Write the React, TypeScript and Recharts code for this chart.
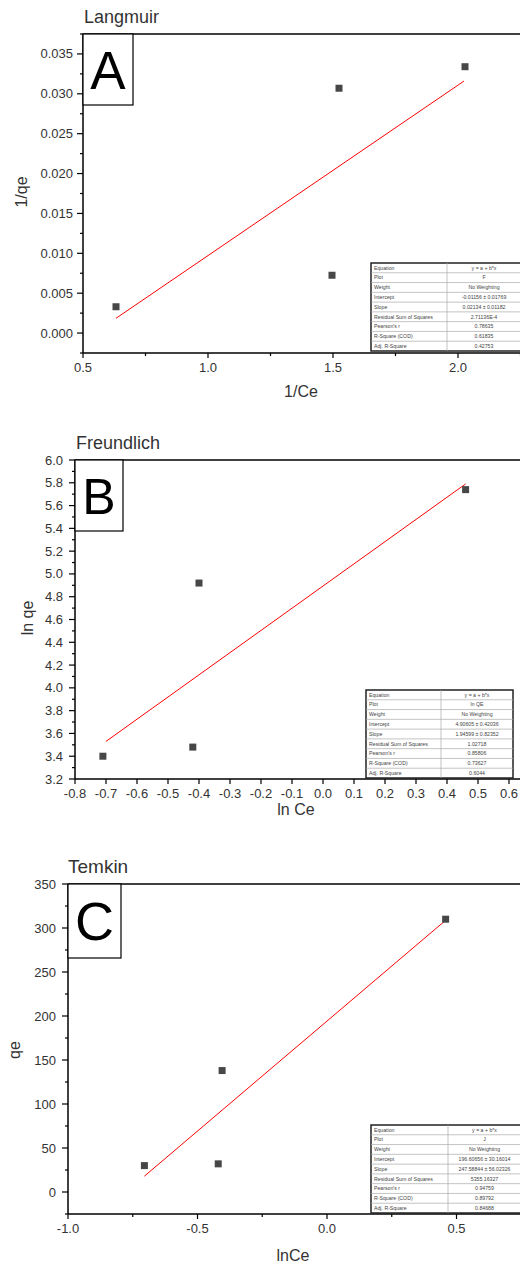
import React from 'react';
import { ScatterChart, Scatter, XAxis, YAxis, ReferenceLine } from 'recharts';

const FONT = '"Liberation Sans", Arial, Helvetica, sans-serif';

// ---------- Panel A: Langmuir ----------
const langX = [0.632, 1.496, 1.524, 2.028];
const langY = [0.0033, 0.00725, 0.0307, 0.0334];
const langFitX = [0.632, 2.024];
const langFitY = [0.00185, 0.0316];
const langXMajor = [0.5, 1.0, 1.5, 2.0];
const langXMinor = [0.75, 1.25, 1.75, 2.25];
const langYMajor = [0, 0.005, 0.01, 0.015, 0.02, 0.025, 0.03, 0.035];
const langYMinor = [-0.0025, 0.0025, 0.0075, 0.0125, 0.0175, 0.0225, 0.0275, 0.0325, 0.0375];
const langTable = [
  ['Equation', 'y = a + b*x'],
  ['Plot', 'F'],
  ['Weight', 'No Weighting'],
  ['Intercept', '-0.01156 ± 0.01769'],
  ['Slope', '0.02134 ± 0.01182'],
  ['Residual Sum of Squares', '2.71136E-4'],
  ['Pearson\'s r', '0.78635'],
  ['R-Square (COD)', '0.61835'],
  ['Adj. R-Square', '0.42753'],
];

// ---------- Panel B: Freundlich ----------
const freX = [-0.71, -0.42, -0.4, 0.46];
const freY = [3.4, 3.48, 4.92, 5.74];
const freFitX = [-0.7, 0.46];
const freFitY = [3.53, 5.79];
const freXMajor = [-0.8, -0.7, -0.6, -0.5, -0.4, -0.3, -0.2, -0.1, 0, 0.1, 0.2, 0.3, 0.4, 0.5, 0.6];
const freXMinor: number[] = [];
const freYMajor = [3.2, 3.4, 3.6, 3.8, 4.0, 4.2, 4.4, 4.6, 4.8, 5.0, 5.2, 5.4, 5.6, 5.8, 6.0];
const freYMinor = [3.3, 3.5, 3.7, 3.9, 4.1, 4.3, 4.5, 4.7, 4.9, 5.1, 5.3, 5.5, 5.7, 5.9];
const freTable = [
  ['Equation', 'y = a + b*x'],
  ['Plot', 'ln QE'],
  ['Weight', 'No Weighting'],
  ['Intercept', '4.90605 ± 0.42036'],
  ['Slope', '1.94599 ± 0.82352'],
  ['Residual Sum of Squares', '1.02718'],
  ['Pearson\'s r', '0.85806'],
  ['R-Square (COD)', '0.73627'],
  ['Adj. R-Square', '0.6044'],
];

// ---------- Panel C: Temkin ----------
const temX = [-0.705, -0.42, -0.405, 0.458];
const temY = [30, 32, 138, 310];
const temFitX = [-0.705, 0.455];
const temFitY = [18, 308];
const temXMajor = [-1.0, -0.5, 0, 0.5];
const temXMinor = [-0.75, -0.25, 0.25];
const temYMajor = [0, 50, 100, 150, 200, 250, 300, 350];
const temYMinor = [-25, 25, 75, 125, 175, 225, 275, 325];
const temTable = [
  ['Equation', 'y = a + b*x'],
  ['Plot', 'J'],
  ['Weight', 'No Weighting'],
  ['Intercept', '196.60656 ± 30.16014'],
  ['Slope', '247.58844 ± 56.02326'],
  ['Residual Sum of Squares', '5355.16327'],
  ['Pearson\'s r', '0.94759'],
  ['R-Square (COD)', '0.89792'],
  ['Adj. R-Square', '0.84688'],
];

const isIn = (arr: number[], v: number) => arr.some((m) => Math.abs(m - v) < 1e-9);

function makeXTick(major: number[], fmt: (v: number) => string) {
  return (props: any) => {
    const { x, y, payload } = props;
    const v = payload.value;
    const mj = isIn(major, v);
    return (
      <g>
        <line x1={x} x2={x} y1={y} y2={y + (mj ? 5 : 3)} stroke="#000" strokeWidth={1.2} />
        {mj && (
          <text x={x} y={y + 19} textAnchor="middle" fontSize={13} fill="#333" fontFamily={FONT}>
            {fmt(v)}
          </text>
        )}
      </g>
    );
  };
}

function makeYTick(major: number[], fmt: (v: number) => string, gap: number) {
  return (props: any) => {
    const { x, y, payload } = props;
    const v = payload.value;
    const mj = isIn(major, v);
    return (
      <g>
        <line x1={x} x2={x - (mj ? 6 : 3)} y1={y} y2={y} stroke="#000" strokeWidth={1.2} />
        {mj && (
          <text x={x - gap} y={y + 4.5} textAnchor="end" fontSize={13} fill="#333" fontFamily={FONT}>
            {fmt(v)}
          </text>
        )}
      </g>
    );
  };
}

const Square = (p: any) => (
  <rect x={p.cx - 3.5} y={p.cy - 3.5} width={7} height={7} fill="#474747" />
);

type PanelProps = {
  top: number;
  height: number;
  marginTop: number;
  xAxisHeight: number;
  yAxisWidth: number;
  xs: number[];
  ys: number[];
  fitX: number[];
  fitY: number[];
  xDomain: [number, number];
  yDomain: [number, number];
  xMajor: number[];
  xMinor: number[];
  yMajor: number[];
  yMinor: number[];
  xFmt: (v: number) => string;
  yFmt: (v: number) => string;
  yGap: number;
};

function Panel(p: PanelProps) {
  const data = p.xs.map((x, i) => ({ x, y: p.ys[i] }));
  const xTicks = [...p.xMajor, ...p.xMinor].sort((a, b) => a - b);
  const yTicks = [...p.yMajor, ...p.yMinor].sort((a, b) => a - b);
  return (
    <div style={{ position: 'absolute', left: 0, top: p.top }}>
      <ScatterChart
        width={522}
        height={p.height}
        margin={{ top: p.marginTop, right: 1, bottom: 0, left: 0 }}
      >
        <XAxis
          type="number"
          dataKey="x"
          domain={p.xDomain}
          ticks={xTicks}
          interval={0}
          allowDataOverflow
          height={p.xAxisHeight}
          tickSize={0}
          tickMargin={0}
          tickLine={false}
          axisLine={{ stroke: '#000', strokeWidth: 1.5 }}
          tick={makeXTick(p.xMajor, p.xFmt)}
        />
        <YAxis
          type="number"
          dataKey="y"
          domain={p.yDomain}
          ticks={yTicks}
          interval={0}
          allowDataOverflow
          width={p.yAxisWidth}
          tickSize={0}
          tickMargin={0}
          tickLine={false}
          axisLine={{ stroke: '#000', strokeWidth: 1.5 }}
          tick={makeYTick(p.yMajor, p.yFmt, p.yGap)}
        />
        <ReferenceLine y={p.yDomain[1]} stroke="#000" strokeWidth={1.5} ifOverflow="visible" />
        <ReferenceLine
          segment={[
            { x: p.fitX[0], y: p.fitY[0] },
            { x: p.fitX[1], y: p.fitY[1] },
          ]}
          stroke="#ff0000"
          strokeWidth={1}
          ifOverflow="visible"
        />
        <Scatter data={data} shape={Square} isAnimationActive={false} />
      </ScatterChart>
    </div>
  );
}

function Table({ x, y, w, h, split, rows }: { x: number; y: number; w: number; h: number; split: number; rows: string[][] }) {
  const rh = h / rows.length;
  return (
    <g fontFamily={FONT} fontSize={5.2} fill="#444">
      <rect x={x} y={y} width={w} height={h} fill="#fff" stroke="#222" strokeWidth={1.5} />
      {rows.map((r, i) => (
        <g key={i}>
          {i > 0 && <line x1={x} x2={x + w} y1={y + i * rh} y2={y + i * rh} stroke="#aaa" strokeWidth={0.7} />}
          <text x={x + 3} y={y + i * rh + rh / 2 + 1.8}>{r[0]}</text>
          <text x={split + (x + w - split) / 2} y={y + i * rh + rh / 2 + 1.8} textAnchor="middle">{r[1]}</text>
        </g>
      ))}
      <line x1={split} x2={split} y1={y} y2={y + h} stroke="#aaa" strokeWidth={0.7} />
    </g>
  );
}

function LetterBox({ x, y, w, h, letter, size }: { x: number; y: number; w: number; h: number; letter: string; size: number }) {
  return (
    <g>
      <rect x={x} y={y} width={w} height={h} fill="#fff" stroke="#000" strokeWidth={1.2} />
      <text x={x + w / 2} y={y + h / 2 + size * 0.36} textAnchor="middle" fontSize={size} fontFamily={FONT} fill="#000">
        {letter}
      </text>
    </g>
  );
}

export default function App() {
  const f3 = (v: number) => v.toFixed(3);
  const f1 = (v: number) => v.toFixed(1);
  const f0 = (v: number) => String(Math.round(v));
  return (
    <div style={{ position: 'absolute', left: 0, top: 0, width: 520, height: 1266, overflow: 'hidden', background: '#fff' }}>
      <Panel
        top={0}
        height={400}
        marginTop={34}
        xAxisHeight={47}
        yAxisWidth={83}
        xs={langX}
        ys={langY}
        fitX={langFitX}
        fitY={langFitY}
        xDomain={[0.5, 2.252]}
        yDomain={[-0.0025, 0.0375]}
        xMajor={langXMajor}
        xMinor={langXMinor}
        yMajor={langYMajor}
        yMinor={langYMinor}
        xFmt={f1}
        yFmt={f3}
        yGap={10}
      />
      <Panel
        top={420}
        height={410}
        marginTop={40}
        xAxisHeight={51}
        yAxisWidth={75}
        xs={freX}
        ys={freY}
        fitX={freFitX}
        fitY={freFitY}
        xDomain={[-0.8, 0.6387]}
        yDomain={[3.2, 6.0]}
        xMajor={freXMajor}
        xMinor={freXMinor}
        yMajor={freYMajor}
        yMinor={freYMinor}
        xFmt={f1}
        yFmt={f1}
        yGap={12}
      />
      <Panel
        top={840}
        height={426}
        marginTop={44}
        xAxisHeight={52}
        yAxisWidth={68}
        xs={temX}
        ys={temY}
        fitX={temFitX}
        fitY={temFitY}
        xDomain={[-1.0, 0.749]}
        yDomain={[-25, 350]}
        xMajor={temXMajor}
        xMinor={temXMinor}
        yMajor={temYMajor}
        yMinor={temYMinor}
        xFmt={f1}
        yFmt={f0}
        yGap={12}
      />
      <svg width={520} height={1266} style={{ position: 'absolute', left: 0, top: 0, pointerEvents: 'none' }}>
        <g fontFamily={FONT} fill="#333">
          <text x={84} y={23} fontSize={18}>Langmuir</text>
          <text x={76} y={449} fontSize={18}>Freundlich</text>
          <text x={68} y={873} fontSize={19}>Temkin</text>
          <text x={301} y={397} fontSize={16} textAnchor="middle">1/Ce</text>
          <text x={296} y={815} fontSize={16} textAnchor="middle">ln Ce</text>
          <text x={293} y={1261} fontSize={16} textAnchor="middle">lnCe</text>
          <text x={27} y={192} fontSize={16} textAnchor="middle" transform="rotate(-90 27 192)">1/qe</text>
          <text x={33} y={618} fontSize={16} textAnchor="middle" transform="rotate(-90 33 618)">ln qe</text>
          <text x={20} y={1050} fontSize={16} textAnchor="middle" transform="rotate(-90 20 1050)">qe</text>
        </g>
        <LetterBox x={83} y={34} w={50} h={71} letter="A" size={53} />
        <LetterBox x={75} y={460} w={48} h={71} letter="B" size={50} />
        <LetterBox x={68} y={884} w={53} h={74} letter="C" size={54} />
        <Table x={371} y={263} w={150} h={88} split={447} rows={langTable} />
        <Table x={366} y={690} w={147} h={88} split={441} rows={freTable} />
        <Table x={371} y={1125} w={150} h={88} split={448} rows={temTable} />
      </svg>
    </div>
  );
}
